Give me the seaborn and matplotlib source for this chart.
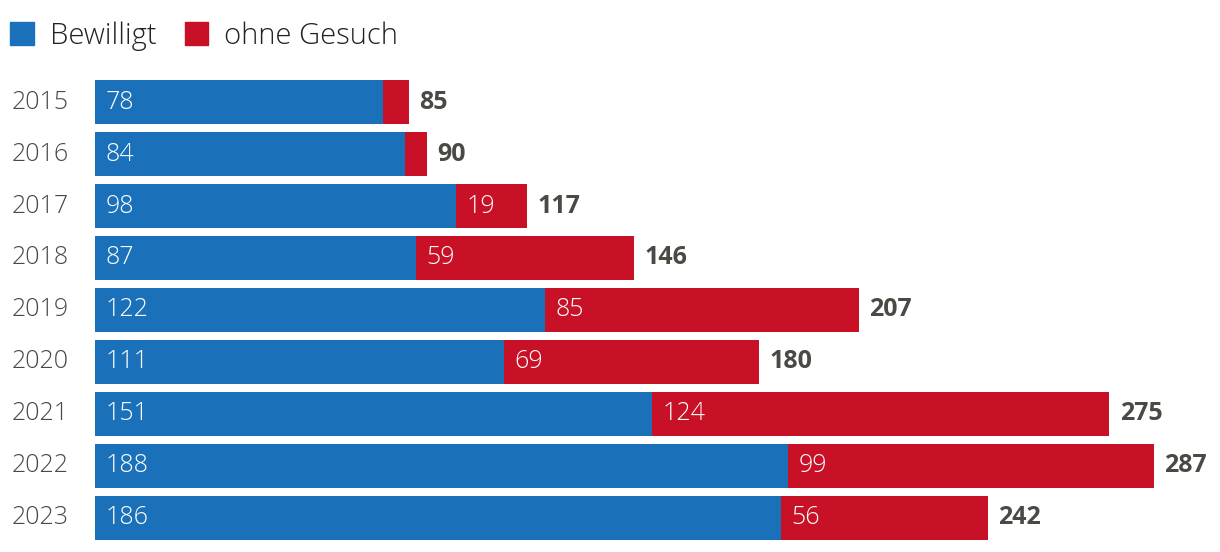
# horizontal stacked bars: Bewilligt vs. ohne Gesuch per year

import seaborn as sns
import matplotlib.pyplot as plt
import pandas as pd
from matplotlib.patches import Patch

# data
years = ['2015', '2016', '2017', '2018', '2019', '2020', '2021', '2022', '2023']
bewilligt = [78, 84, 98, 87, 122, 111, 151, 188, 186]
ohne_gesuch = [7, 6, 19, 59, 85, 69, 124, 99, 56]
totals = [b + o for b, o in zip(bewilligt, ohne_gesuch)]

blue = '#1a71b9'
red = '#c81026'
grey = '#4a4a45'

df = pd.DataFrame({'Jahr': years, 'Bewilligt': bewilligt, 'Total': totals})

sns.set_style('white')
plt.rcParams['font.family'] = ['Open Sans', 'DejaVu Sans']

fig = plt.figure(figsize=(12.2, 5.52), dpi=100)
ax = fig.add_axes([95 / 1220, 8 / 552, 1 - 95 / 1220, 468 / 552])

# red bar = total, blue bar drawn on top
sns.barplot(data=df, x='Total', y='Jahr', orient='h', color=red, width=0.846,
            saturation=1, linewidth=0, ax=ax)
sns.barplot(data=df, x='Bewilligt', y='Jahr', orient='h', color=blue, width=0.846,
            saturation=1, linewidth=0, ax=ax)

ax.set_xlim(0, 305)
ax.set_ylim(8.5, -0.5)
ax.set_xlabel('')
ax.set_ylabel('')
ax.set_xticks([])
sns.despine(ax=ax, left=True, bottom=True)
ax.tick_params(axis='y', length=0, pad=19, labelsize=18, labelcolor=grey)
for lab in ax.get_yticklabels():
    lab.set_fontweight('light')
    lab.set_verticalalignment('center')

# value labels
for i in range(len(years)):
    ax.text(2.8, i, str(bewilligt[i]), color='white', fontsize=18,
            fontweight='light', va='center', ha='left')
    if ohne_gesuch[i] >= 15:
        ax.text(bewilligt[i] + 2.8, i, str(ohne_gesuch[i]), color='white',
                fontsize=18, fontweight='light', va='center', ha='left')
    ax.text(totals[i] + 2.9, i, str(totals[i]), color=grey, fontsize=18,
            fontweight='bold', va='center', ha='left')

# legend
handles = [Patch(color=blue, label='Bewilligt'), Patch(color=red, label='ohne Gesuch')]
leg = fig.legend(handles=handles, loc='upper left', bbox_to_anchor=(0.0, 1 - 11 / 552),
                 ncol=2, frameon=False, fontsize=21, handlelength=0.82,
                 handleheight=0.82, handletextpad=0.55, columnspacing=0.95,
                 borderaxespad=0.0, borderpad=0.35)
for t in leg.get_texts():
    t.set_color('#222222')
    t.set_fontweight('light')

plt.savefig('out.png', dpi=100)
